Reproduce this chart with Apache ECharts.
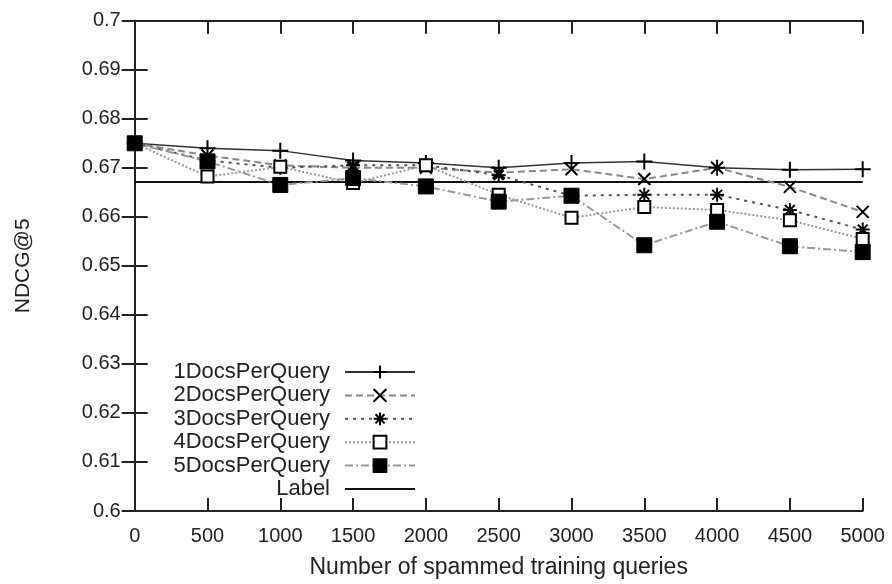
<!DOCTYPE html>
<html>
<head>
<meta charset="utf-8">
<script src="https://cdn.jsdelivr.net/npm/echarts@6/dist/echarts.min.js"></script>
<style>html,body{margin:0;padding:0;background:#fff}#c{width:892px;height:584px}</style>
</head>
<body>
<div id="c"></div>
<script>
var xValues = [0, 500, 1000, 1500, 2000, 2500, 3000, 3500, 4000, 4500, 5000];
var docs1 = [0.675, 0.674, 0.6735, 0.6715, 0.671, 0.670, 0.671, 0.6713, 0.670, 0.6696, 0.6697];
var docs2 = [0.675, 0.6725, 0.6705, 0.670, 0.670, 0.669, 0.6697, 0.6677, 0.670, 0.6661, 0.661];
var docs3 = [0.675, 0.6715, 0.670, 0.6705, 0.6705, 0.6685, 0.6643, 0.6645, 0.6645, 0.6614, 0.6574];
var docs4 = [0.675, 0.6682, 0.6702, 0.6669, 0.6705, 0.6645, 0.6598, 0.662, 0.6614, 0.6593, 0.6555];
var docs5 = [0.675, 0.6713, 0.6665, 0.6679, 0.6662, 0.6631, 0.6643, 0.6542, 0.659, 0.654, 0.6528];
var labelValue = [0.6671, 0.6671];
var labelX = [0, 5000];
var seriesNames = ['1DocsPerQuery', '2DocsPerQuery', '3DocsPerQuery', '4DocsPerQuery', '5DocsPerQuery', 'Label'];
var yTickLabels = ['0.6','0.61','0.62','0.63','0.64','0.65','0.66','0.67','0.68','0.69','0.7'];
var xTickLabels = ['0','500','1000','1500','2000','2500','3000','3500','4000','4500','5000'];

function pairs(xs, ys){ return xs.map(function(x,i){ return [x, ys[i]]; }); }

var FONT = 'Liberation Sans, Arial, sans-serif';
var PLUS = 'path://M0,50 L100,50 M50,0 L50,100';
var CROSS = 'path://M0,0 L100,100 M100,0 L0,100';
var STAR = 'path://M0,50 L100,50 M50,0 L50,100 M15,15 L85,85 M85,15 L15,85';

function mkSeries(name, data, color, dash, width, symbol, size, kind){
  var item;
  if (kind === 'filled') item = {color: '#000', borderColor: '#000', borderWidth: 1};
  else if (kind === 'empty') item = {color: '#000', borderColor: '#000', borderWidth: 2};
  else item = {color: 'rgba(0,0,0,0)', borderColor: '#000', borderWidth: 2};
  return {
    name: name, type: 'line', data: pairs(xValues, data),
    symbol: symbol, symbolSize: size, showSymbol: true,
    lineStyle: {color: color, width: width, type: dash},
    itemStyle: item,
    emphasis: {disabled: true},
    z: 3
  };
}

var rowTops = [356, 379.4, 402.8, 426.2, 449.6, 473];
var legends = seriesNames.map(function(n, i){
  return {
    orient: 'vertical', right: 471, top: rowTops[i], align: 'right',
    itemWidth: 70, itemHeight: 16, itemGap: 0,
    data: [n],
    textStyle: {fontFamily: FONT, fontSize: 22, color: '#222', padding: [0, 10, 0, 0]}
  };
});

var chart = echarts.init(document.getElementById('c'));
var axisLineStyle = {color: '#222', width: 2};
var tickStyle = {show: true, inside: true, length: 13, lineStyle: {color: '#222', width: 2}};
chart.setOption({
  animation: false,
  backgroundColor: '#fff',
  grid: {left: 134.7, right: 29.3, top: 20.7, bottom: 72.3},
  legend: legends,
  xAxis: [{
    type: 'value', min: 0, max: 5000, interval: 500,
    name: 'Number of spammed training queries', nameLocation: 'middle', nameGap: 45,
    nameTextStyle: {fontFamily: FONT, fontSize: 23, color: '#222'},
    axisLine: {show: true, lineStyle: axisLineStyle},
    axisTick: tickStyle,
    axisLabel: {fontFamily: FONT, fontSize: 20, color: '#222', margin: 15,
      formatter: function(v){ var i = xValues.indexOf(v); return i >= 0 ? xTickLabels[i] : ''; }},
    splitLine: {show: false}
  }, {
    type: 'value', min: 0, max: 5000, interval: 500, position: 'top',
    axisLine: {show: true, lineStyle: axisLineStyle},
    axisTick: tickStyle,
    axisLabel: {show: false}, splitLine: {show: false}
  }],
  yAxis: [{
    type: 'value', min: 0.6, max: 0.7, interval: 0.01,
    name: 'NDCG@5', nameLocation: 'middle', nameGap: 101, nameRotate: 90,
    nameTextStyle: {fontFamily: FONT, fontSize: 21, color: '#222'},
    axisLine: {show: true, lineStyle: axisLineStyle},
    axisTick: tickStyle,
    axisLabel: {fontFamily: FONT, fontSize: 20, color: '#222', margin: 14,
      formatter: function(v){ var i = Math.round((v - 0.6) * 100); return yTickLabels[i] || ''; }},
    splitLine: {show: false}
  }, {
    type: 'value', min: 0.6, max: 0.7, interval: 0.01, position: 'right',
    axisLine: {show: true, lineStyle: axisLineStyle},
    axisTick: tickStyle,
    axisLabel: {show: false}, splitLine: {show: false}
  }],
  series: [
    mkSeries(seriesNames[0], docs1, '#333', 'solid', 1.5, PLUS, 16, 'stroke'),
    mkSeries(seriesNames[1], docs2, '#888', [7, 4], 2, CROSS, 12, 'stroke'),
    mkSeries(seriesNames[2], docs3, '#555', [3, 5], 2, STAR, 14, 'stroke'),
    mkSeries(seriesNames[3], docs4, '#999', [2, 2], 2, 'emptyRect', 12, 'empty'),
    mkSeries(seriesNames[4], docs5, '#999', [8, 3, 2, 3], 2, 'rect', 15, 'filled'),
    {
      name: seriesNames[5], type: 'line', data: pairs(labelX, labelValue),
      symbol: 'rect', symbolSize: 0, showSymbol: false,
      lineStyle: {color: '#111', width: 2, type: 'solid'},
      itemStyle: {color: 'rgba(0,0,0,0)', borderWidth: 0},
      emphasis: {disabled: true}, z: 2
    }
  ]
});
</script>
</body>
</html>
